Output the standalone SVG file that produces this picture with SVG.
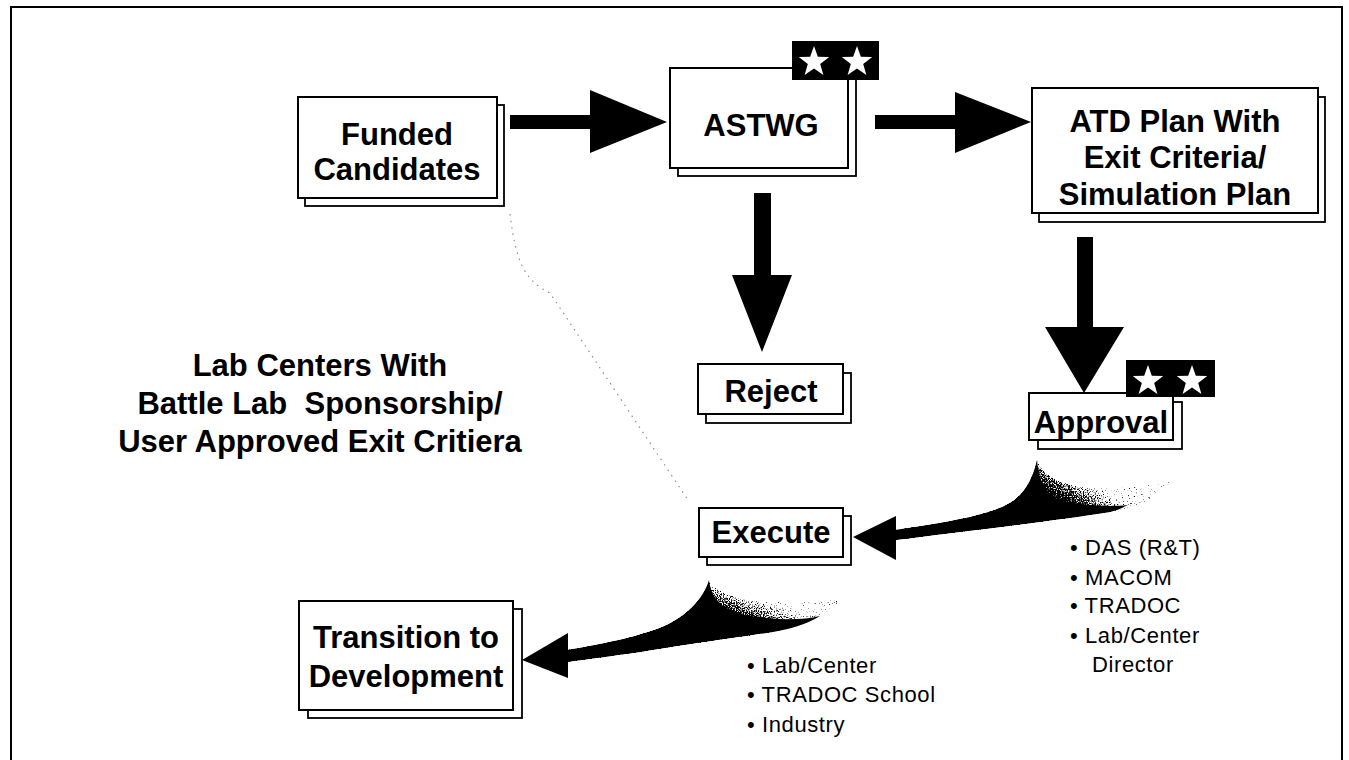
<svg xmlns="http://www.w3.org/2000/svg" width="1349" height="760" viewBox="0 0 1349 760">
  <defs>
    <style>
      .frame{fill:none;stroke:#000;stroke-width:2}
      .box{fill:#fff;stroke:#000;stroke-width:2}
      .shadow{fill:#fff;stroke:#000;stroke-width:1.8}
      .lbl{font-family:"Liberation Sans",Arial,Helvetica,sans-serif;font-weight:bold;font-size:31px;fill:#000;text-anchor:middle}
      .note{font-family:"Liberation Sans",Arial,Helvetica,sans-serif;font-size:22px;letter-spacing:0.6px;fill:#000}
      .arrow{fill:#000}
      .dots{fill:none;stroke:#888;stroke-width:1.1;stroke-dasharray:1.5 5}
      .badge{fill:#000}
      .star{fill:#fff}
    </style>
    <!-- five-point star, centred on the origin -->
    <polygon id="star" class="star" points="0,-16 3.82,-5.26 15.22,-4.94 6.18,2.01 9.40,12.94 0,6.5 -9.40,12.94 -6.18,2.01 -15.22,-4.94 -3.82,-5.26"/>
    <!-- fading fills for the two curved sweeps -->
    <linearGradient id="fade1" gradientUnits="userSpaceOnUse" x1="1060" y1="518" x2="1085" y2="478">
      <stop offset="0" stop-color="#000" stop-opacity="1"/>
      <stop offset="0.4" stop-color="#000" stop-opacity="0.75"/>
      <stop offset="1" stop-color="#000" stop-opacity="0.36"/>
    </linearGradient>
    <linearGradient id="fade2" gradientUnits="userSpaceOnUse" x1="740" y1="635" x2="755" y2="596">
      <stop offset="0" stop-color="#000" stop-opacity="1"/>
      <stop offset="0.4" stop-color="#000" stop-opacity="0.75"/>
      <stop offset="1" stop-color="#000" stop-opacity="0.36"/>
    </linearGradient>
    <!-- stipple: threshold the fill's alpha against noise -->
    <filter id="grain" x="-5%" y="-10%" width="110%" height="120%" color-interpolation-filters="sRGB">
      <feTurbulence type="fractalNoise" baseFrequency="0.85" numOctaves="2" seed="4" result="noise"/>
      <feColorMatrix in="noise" type="matrix" values="0 0 0 0 0  0 0 0 0 0  0 0 0 0 0  1 0 0 0 0" result="n"/>
      <feComposite in="SourceAlpha" in2="n" operator="arithmetic" k1="0" k2="6" k3="-6" k4="0"/>
    </filter>
  </defs>

  <rect width="1349" height="760" fill="#fff"/>
  <!-- outer frame -->
  <rect class="frame" x="11" y="7" width="1331" height="800"/>

  <!-- connectors -->
  <g id="connectors">
    <!-- faint dotted trace from Funded Candidates down to Execute -->
    <path class="dots" d="M510,214 C516,262 524,280 550,293 L688,500"/>
    <!-- Funded Candidates -> ASTWG -->
    <polygon class="arrow" points="510,115 590,115 590,90 667,122 590,153 590,129 510,129"/>
    <!-- ASTWG -> ATD plan -->
    <polygon class="arrow" points="875,115 955,115 955,92 1031,122 955,153 955,129 875,129"/>
    <!-- ASTWG -> Reject -->
    <polygon class="arrow" points="754,193 771,193 771,275 792,275 762,352 732,275 754,275"/>
    <!-- ATD plan -> Approval -->
    <polygon class="arrow" points="1077,237 1093,237 1093,327 1124,327 1084,393 1045,327 1077,327"/>

    <!-- Approval -> Execute sweep -->
    <g id="sweep-approval">
      <path fill="url(#fade1)" filter="url(#grain)" d="M895,530 C950,522 990,515 1010,503 C1025,494 1033,478 1037,460 C1045,480 1070,488 1100,488 C1135,488 1160,484 1172,481 C1158,500 1135,508 1110,512 C1060,520 990,528 895,540 Z"/>
      <path class="arrow" d="M895,530 C950,522 990,515 1010,503 C1025,494 1033,478 1037,460 C1039,480 1044,494 1060,500 C1085,506 1110,507 1128,505 C1120,509 1115,511 1110,512 C1060,520 990,528 895,540 Z"/>
      <polygon class="arrow" points="853,537 896,516 896,560"/>
    </g>

    <!-- Execute -> Transition sweep -->
    <g id="sweep-execute">
      <path fill="url(#fade2)" filter="url(#grain)" d="M567,650 C600,645 640,636 660,628 C685,618 703,600 709,580 C718,596 745,601 780,602 C810,603 830,600 843,597 C830,615 800,627 773,632 C740,637 700,642 640,652 C610,656 590,659 567,662 Z"/>
      <path class="arrow" d="M567,650 C600,645 640,636 660,628 C685,618 703,600 709,580 C711,598 722,610 745,615 C775,620 800,621 820,616 C805,625 790,629 773,632 C740,637 700,642 640,652 C610,656 590,659 567,662 Z"/>
      <polygon class="arrow" points="522,660 568,633 568,678"/>
    </g>
  </g>

  <!-- nodes -->
  <g id="funded">
    <rect class="shadow" x="305" y="105" width="199" height="101"/>
    <rect class="box" x="298" y="97" width="199" height="101"/>
    <text class="lbl" x="397" y="145">Funded</text>
    <text class="lbl" x="397" y="180">Candidates</text>
  </g>

  <g id="astwg">
    <rect class="shadow" x="678" y="76" width="178" height="100"/>
    <rect class="box" x="670" y="68" width="178" height="100"/>
    <rect class="badge" x="792" y="41" width="87" height="39"/>
    <use href="#star" x="814" y="62"/>
    <use href="#star" x="857" y="62"/>
    <text class="lbl" x="761" y="136">ASTWG</text>
  </g>

  <g id="atd-plan">
    <rect class="shadow" x="1039" y="97" width="286" height="125"/>
    <rect class="box" x="1032" y="88" width="286" height="125"/>
    <text class="lbl" x="1175" y="132">ATD Plan With</text>
    <text class="lbl" x="1175" y="168">Exit Criteria/</text>
    <text class="lbl" x="1175" y="205">Simulation Plan</text>
  </g>

  <g id="reject">
    <rect class="shadow" x="706" y="373" width="145" height="50"/>
    <rect class="box" x="698" y="364" width="145" height="50"/>
    <text class="lbl" x="771" y="402">Reject</text>
  </g>

  <g id="approval">
    <rect class="shadow" x="1038" y="402" width="144" height="47"/>
    <rect class="box" x="1029" y="393" width="144" height="47"/>
    <rect class="badge" x="1126" y="360" width="89" height="37"/>
    <use href="#star" x="1148" y="381"/>
    <use href="#star" x="1192" y="381"/>
    <text class="lbl" x="1101" y="433">Approval</text>
  </g>

  <g id="execute">
    <rect class="shadow" x="707" y="516" width="144" height="49"/>
    <rect class="box" x="699" y="508" width="144" height="49"/>
    <text class="lbl" x="771" y="543">Execute</text>
  </g>

  <g id="transition">
    <rect class="shadow" x="308" y="609" width="214" height="109"/>
    <rect class="box" x="299" y="601" width="214" height="109"/>
    <text class="lbl" x="406" y="648">Transition to</text>
    <text class="lbl" x="406" y="687">Development</text>
  </g>

  <!-- free-standing caption -->
  <g id="lab-centers">
    <text class="lbl" x="320" y="376">Lab Centers With</text>
    <text class="lbl" x="320" y="414" style="white-space:pre">Battle Lab  Sponsorship/</text>
    <text class="lbl" x="320" y="452">User Approved Exit Critiera</text>
  </g>

  <!-- approval authorities -->
  <g id="approvers">
    <text class="note" x="1070" y="555">• DAS (R&amp;T)</text>
    <text class="note" x="1070" y="585">• MACOM</text>
    <text class="note" x="1070" y="613">• TRADOC</text>
    <text class="note" x="1070" y="643">• Lab/Center</text>
    <text class="note" x="1092" y="672">Director</text>
  </g>

  <!-- executing agencies -->
  <g id="executors">
    <text class="note" x="747" y="673">• Lab/Center</text>
    <text class="note" x="747" y="702">• TRADOC School</text>
    <text class="note" x="747" y="732">• Industry</text>
  </g>
</svg>
